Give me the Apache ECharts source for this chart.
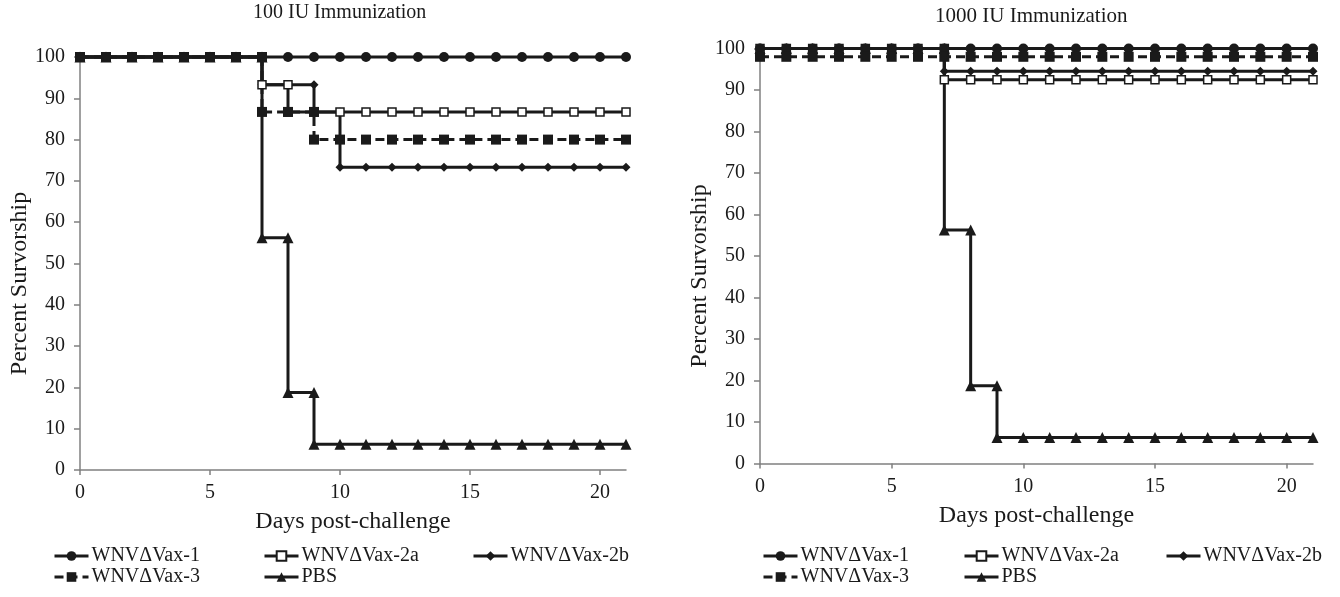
<!DOCTYPE html>
<html>
<head>
<meta charset="utf-8">
<script src="https://cdn.jsdelivr.net/npm/echarts@6/dist/echarts.min.js"></script>
<style>
  html, body { margin: 0; padding: 0; background: #fff; }
  .panel { position: absolute; top: 0; width: 670px; height: 597px; }
  #left { left: 0; }
  #right { left: 670px; }
</style>
</head>
<body>
<div id="left" class="panel"></div>
<div id="right" class="panel"></div>
<script>
// days post-challenge
const days = [0, 1, 2, 3, 4, 5, 6, 7, 8, 9, 10, 11, 12, 13, 14, 15, 16, 17, 18, 19, 20, 21]
const xTicks = [0, 5, 10, 15, 20]
const names = ['WNVΔVax-1', 'WNVΔVax-2a', 'WNVΔVax-2b', 'WNVΔVax-3', 'PBS']

// 100 IU immunization, percent survival per day
const iu100Vax1 = [100, 100, 100, 100, 100, 100, 100, 100, 100, 100, 100, 100, 100, 100, 100, 100, 100, 100, 100, 100, 100, 100]
const iu100Vax2a = [100, 100, 100, 100, 100, 100, 100, 93.3, 86.7, 86.7, 86.7, 86.7, 86.7, 86.7, 86.7, 86.7, 86.7, 86.7, 86.7, 86.7, 86.7, 86.7]
const iu100Vax2b = [100, 100, 100, 100, 100, 100, 100, 93.3, 93.3, 86.7, 73.3, 73.3, 73.3, 73.3, 73.3, 73.3, 73.3, 73.3, 73.3, 73.3, 73.3, 73.3]
const iu100Vax3 = [100, 100, 100, 100, 100, 100, 100, 86.7, 86.7, 80, 80, 80, 80, 80, 80, 80, 80, 80, 80, 80, 80, 80]
const iu100Pbs = [100, 100, 100, 100, 100, 100, 100, 56.25, 18.75, 6.25, 6.25, 6.25, 6.25, 6.25, 6.25, 6.25, 6.25, 6.25, 6.25, 6.25, 6.25, 6.25]

// 1000 IU immunization
const iu1000Vax1 = [100, 100, 100, 100, 100, 100, 100, 100, 100, 100, 100, 100, 100, 100, 100, 100, 100, 100, 100, 100, 100, 100]
const iu1000Vax2a = [100, 100, 100, 100, 100, 100, 100, 92.5, 92.5, 92.5, 92.5, 92.5, 92.5, 92.5, 92.5, 92.5, 92.5, 92.5, 92.5, 92.5, 92.5, 92.5]
const iu1000Vax2b = [100, 100, 100, 100, 100, 100, 100, 94.5, 94.5, 94.5, 94.5, 94.5, 94.5, 94.5, 94.5, 94.5, 94.5, 94.5, 94.5, 94.5, 94.5, 94.5]
const iu1000Vax3 = [98, 98, 98, 98, 98, 98, 98, 98, 98, 98, 98, 98, 98, 98, 98, 98, 98, 98, 98, 98, 98, 98]
const iu1000Pbs = [100, 100, 100, 100, 100, 100, 100, 56.25, 18.75, 6.25, 6.25, 6.25, 6.25, 6.25, 6.25, 6.25, 6.25, 6.25, 6.25, 6.25, 6.25, 6.25]

const FONT = "'Liberation Serif', 'Times New Roman', serif"
const INK = '#1a1a1a'
const AXIS = '#808080'

// kaplan-meier steps: a drop gets a point before and after it
function kmPoints(surv) {
  const pts = []
  surv.forEach((v, i) => {
    if (i > 0 && v !== surv[i - 1]) pts.push([days[i], surv[i - 1]])
    pts.push([days[i], v])
  })
  return pts
}

const styles = {
  'WNVΔVax-1': { symbol: 'circle', symbolSize: 10, itemStyle: { color: INK } },
  'WNVΔVax-2a': { symbol: 'rect', symbolSize: 8, itemStyle: { color: '#fff', borderColor: INK, borderWidth: 1.5 } },
  'WNVΔVax-2b': { symbol: 'diamond', symbolSize: 9, itemStyle: { color: INK } },
  'WNVΔVax-3': { symbol: 'rect', symbolSize: 10, itemStyle: { color: INK }, dash: [9, 5] },
  PBS: { symbol: 'triangle', symbolSize: 11, itemStyle: { color: INK } },
}

// draw order so the top markers look like the original
const drawOrder = ['PBS', 'WNVΔVax-2b', 'WNVΔVax-2a', 'WNVΔVax-1', 'WNVΔVax-3']

function render(el, cfg) {
  const chart = echarts.init(el)
  const legends = names.map((n, i) => ({
    data: [n],
    left: cfg.legendLeft[i],
    top: cfg.legendTop[i],
    padding: 0,
    itemWidth: 34,
    itemHeight: 12,
    selectedMode: false,
    lineStyle: { width: 3 },
    textStyle: { fontFamily: FONT, fontSize: 20, color: INK, padding: [0, 0, 0, -2] },
  }))
  chart.setOption({
    animation: false,
    textStyle: { fontFamily: FONT },
    title: {
      text: cfg.title,
      left: cfg.titleLeft,
      top: cfg.titleTop,
      padding: 0,
      textStyle: { fontFamily: FONT, fontSize: cfg.titleSize, fontWeight: 'normal', color: INK },
    },
    legend: legends,
    grid: { ...cfg.grid, outerBoundsMode: 'none', containLabel: false },
    xAxis: {
      type: 'value',
      min: 0,
      max: 21,
      name: 'Days post-challenge',
      nameLocation: 'middle',
      nameGap: 40,
      nameMoveOverlap: false,
      nameTextStyle: { fontFamily: FONT, fontSize: 24, color: INK },
      axisLine: { lineStyle: { color: AXIS, width: 1.5 } },
      axisTick: { length: 5, lineStyle: { color: AXIS, width: 1.5 }, customValues: xTicks },
      axisLabel: { fontFamily: FONT, fontSize: 20, color: INK, margin: 13, customValues: xTicks },
      splitLine: { show: false },
    },
    yAxis: {
      type: 'value',
      min: 0,
      max: 100,
      interval: 10,
      name: 'Percent Survorship',
      nameLocation: 'middle',
      nameGap: 48,
      nameMoveOverlap: false,
      nameTextStyle: { fontFamily: FONT, fontSize: 24, color: INK, padding: [0, 40, 0, 0] },
      axisLine: { show: true, lineStyle: { color: AXIS, width: 1.5 } },
      axisTick: { show: true, length: 6, lineStyle: { color: AXIS, width: 1.5 } },
      axisLabel: { fontFamily: FONT, fontSize: 20, color: INK, margin: 15 },
      splitLine: { show: false },
    },
    series: drawOrder.map((n) => {
      const s = styles[n]
      return {
        name: n,
        type: 'line',
        data: kmPoints(cfg.data[n]),
        symbol: s.symbol,
        symbolSize: s.symbolSize,
        showAllSymbol: true,
        clip: false,
        itemStyle: s.itemStyle,
        lineStyle: { color: INK, width: 3, type: s.dash || 'solid' },
        emphasis: { disabled: true },
      }
    }),
  })
  return chart
}

render(document.getElementById('left'), {
  title: '100 IU Immunization',
  titleLeft: 253,
  titleTop: 3,
  titleSize: 20,
  grid: { left: 80, top: 57, width: 546, height: 413 },
  legendLeft: [53, 263, 472, 53, 263],
  legendTop: [546, 546, 546, 567, 567],
  data: {
    'WNVΔVax-1': iu100Vax1,
    'WNVΔVax-2a': iu100Vax2a,
    'WNVΔVax-2b': iu100Vax2b,
    'WNVΔVax-3': iu100Vax3,
    PBS: iu100Pbs,
  },
})

render(document.getElementById('right'), {
  title: '1000 IU Immunization',
  titleLeft: 265,
  titleTop: 6,
  titleSize: 21,
  grid: { left: 90, top: 48.5, width: 553, height: 415 },
  legendLeft: [92, 293, 495, 92, 293],
  legendTop: [546, 546, 546, 567, 567],
  data: {
    'WNVΔVax-1': iu1000Vax1,
    'WNVΔVax-2a': iu1000Vax2a,
    'WNVΔVax-2b': iu1000Vax2b,
    'WNVΔVax-3': iu1000Vax3,
    PBS: iu1000Pbs,
  },
})
</script>
</body>
</html>
